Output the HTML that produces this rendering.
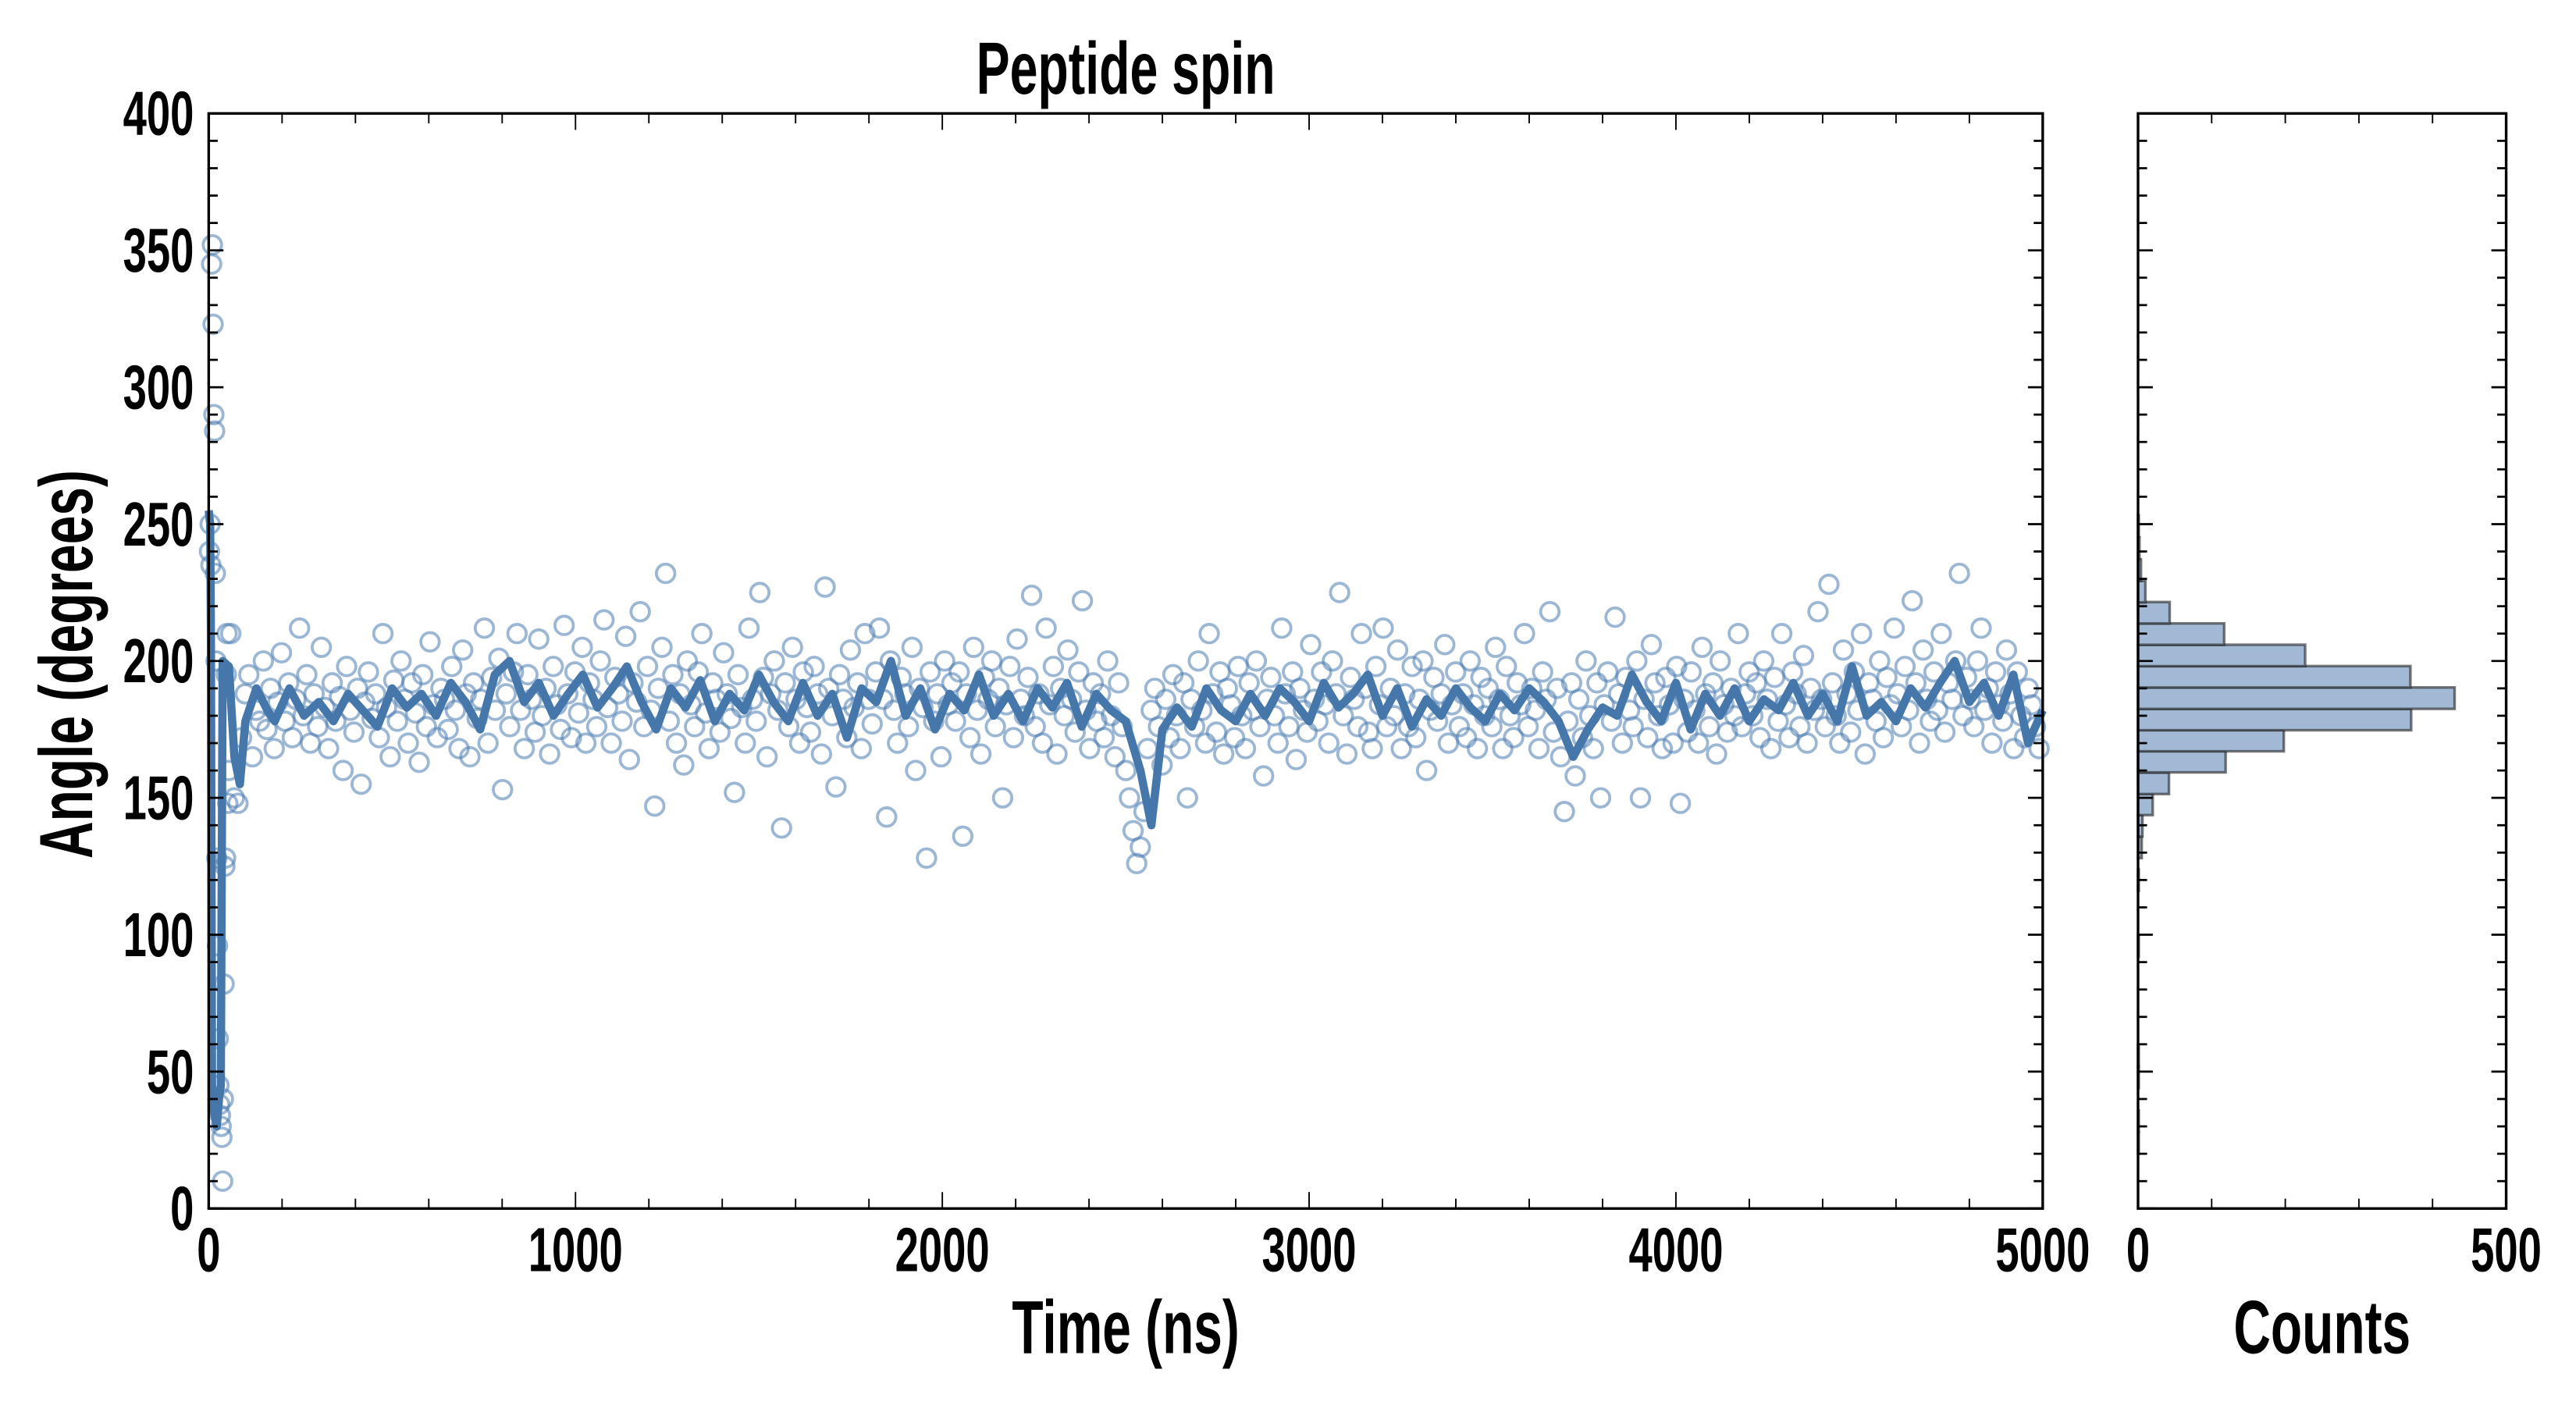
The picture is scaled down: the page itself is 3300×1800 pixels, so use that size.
<!DOCTYPE html>
<html><head><meta charset="utf-8"><title>Peptide spin</title>
<style>
html,body{margin:0;padding:0;background:#fff;}
svg{display:block;}
text{font-family:"Liberation Sans",sans-serif;font-weight:bold;fill:#000;}
</style></head>
<body>
<svg id="chart" xmlns="http://www.w3.org/2000/svg" width="3300" height="1800" viewBox="0 0 1567.5 854.5" preserveAspectRatio="none">
<rect x="0" y="0" width="1570" height="860" fill="#fff"/>
<g id="main-plot"></g>
<g id="hist-plot"></g>
<g id="labels"></g>
</svg>
<script>
// ---- data ----
const earlyTimes = [2,4,6,8,10,12,14,16,18,20,22,24,26,28,30,32,34,36,38,40,42,44,46,48,50,52,55];
const earlyValues = [240,250,235,345,352,323,290,284,232,200,128,96,62,45,38,34,30,26,10,40,82,125,128,195,210,148,160];
const scatterStart = 60;
const scatterStep = 9.88;
const scatterValues = [
210,150,148,172,188,195,165,182,178,200,175,190,168,185,203,178,192,172,186,212,
180,195,170,188,176,205,183,168,192,178,187,160,198,182,174,190,155,185,196,179,
188,172,210,183,165,193,178,200,186,170,192,181,163,195,176,207,184,172,190,186,
175,198,182,168,204,188,165,192,179,186,212,170,194,182,201,153,188,176,196,210,
182,168,195,186,174,208,180,190,166,198,184,175,213,188,172,196,181,205,170,192,
186,176,200,215,183,170,194,188,178,209,164,192,185,218,176,198,182,147,190,205,
232,178,195,170,188,162,200,184,176,196,210,181,168,192,186,174,203,188,179,152,
195,183,170,212,186,178,225,194,165,188,200,182,139,192,176,205,186,170,196,183,
174,198,188,166,227,190,180,154,195,186,172,204,183,192,168,210,186,177,196,212,
186,143,200,182,170,194,188,176,205,160,190,183,128,196,178,188,165,200,184,192,
178,196,136,188,172,205,182,166,194,186,200,176,190,150,184,198,172,208,186,180,
194,224,176,188,170,212,184,198,166,190,180,204,186,174,196,222,182,168,192,178,
188,172,200,180,165,192,176,160,150,138,126,132,145,168,182,190,176,162,186,172,
195,180,168,192,150,186,176,200,182,170,210,188,174,196,166,190,184,172,198,180,
168,192,182,200,176,158,186,194,180,170,212,188,176,196,164,190,182,174,206,186,
178,196,184,170,200,188,225,180,166,194,186,176,210,190,174,168,198,184,212,176,
190,180,204,168,188,176,198,172,186,200,160,182,194,178,188,206,170,184,196,176,
188,172,200,184,168,194,180,190,176,205,186,168,198,180,172,192,184,210,176,190,
182,168,196,186,218,174,190,165,145,178,192,158,186,172,200,180,168,192,150,184,
196,178,216,188,170,194,182,176,200,150,186,172,206,192,180,168,194,184,170,198,
148,186,174,196,182,170,205,188,176,192,166,200,184,174,190,180,210,176,188,196,
180,192,172,200,186,168,194,178,210,184,172,196,188,176,202,170,190,182,218,186,
176,228,192,180,170,204,188,174,196,182,210,166,192,186,178,200,172,194,184,212,
188,176,198,182,222,192,170,204,186,178,196,182,210,174,192,186,200,232,180,194,
186,176,200,212,182,190,170,196,184,178,204,188,168,196,180,172,190,184,176,168];
const lineTimes = [0,4,6,9,15,22,28,33,38,55,70,85,100,130,160,180,220,260,300,340,380,420,460,500,540,580,620,660,700,740,780,820,860,900,940,980,1020,1060,1100,1140,1180,1220,1260,1300,1340,1380,1420,1460,1500,1540,1580,1620,1660,1700,1740,1780,1820,1860,1900,1940,1980,2020,2060,2100,2140,2180,2220,2260,2300,2340,2380,2420,2460,2500,2540,2570,2600,2640,2680,2720,2760,2800,2840,2880,2920,2960,3000,3040,3080,3120,3160,3200,3240,3280,3320,3360,3400,3440,3480,3520,3560,3600,3640,3680,3720,3760,3800,3840,3880,3920,3960,4000,4040,4080,4120,4160,4200,4240,4280,4320,4360,4400,4440,4480,4520,4560,4600,4640,4680,4720,4760,4800,4840,4880,4920,4960,5000];
const lineValues = [255,250,210,45,35,30,40,45,200,198,165,155,178,190,182,178,190,180,185,178,188,182,176,190,183,188,180,192,185,175,195,200,185,192,180,188,195,183,190,198,185,175,190,183,193,178,188,182,195,185,178,192,180,188,172,190,185,200,180,190,175,188,182,195,180,188,178,190,183,192,176,188,182,178,160,140,175,183,176,190,182,178,188,180,190,185,178,192,183,188,195,180,190,176,186,180,190,183,178,188,182,190,185,178,165,175,183,180,195,185,178,192,175,188,180,190,178,186,182,192,180,188,178,198,180,185,178,190,183,192,200,185,192,180,195,170,182];
const binLower = [20,28,36,44,52,60,68,76,84,92,100,108,116,124,128.0,135.9,143.7,151.4,159.3,167.0,174.7,182.5,190.3,198.1,205.9,213.7,221.4,229.3,237.3,245.4];
const binCounts = [1,1,0,1,1,0,0,0,0,1,0,0,1,0,5,6,20,42,119,198,371,430,370,227,117,43,10,4,2,1];
const binWidth = 7.84;
const yTicks = [0,50,100,150,200,250,300,350,400];
const xTicks = [0,1000,2000,3000,4000,5000];
const hxTickLabels = [0,500];

// ---- layout ----
const M = {l:127, r:1243, t:69, b:735};
const H = {l:1301, r:1525};
const NS = 'http://www.w3.org/2000/svg';
const xS = t => M.l + (t/5000)*(M.r-M.l);
const yS = v => M.b - (v/400)*(M.b-M.t);
const hS = c => H.l + (c/500)*(H.r-H.l);
const main = document.getElementById('main-plot');
const hist = document.getElementById('hist-plot');
const labels = document.getElementById('labels');
function mk(tag, attrs, parent){
  const e = document.createElementNS(NS, tag);
  for (const k in attrs) e.setAttribute(k, attrs[k]);
  parent.appendChild(e);
  return e;
}
function txt(x, y, s, size, anchor, parent, rot){
  const e = mk('text', {'font-size':size, 'text-anchor':anchor,
    transform:'translate('+x+','+y+')'+(rot?' rotate('+rot+')':'')+' scale(0.68,1)'}, parent);
  e.textContent = s;
  return e;
}

// scatter
const sg = mk('g', {fill:'none', stroke:'#4a7bb0', 'stroke-opacity':'0.55', 'stroke-width':'1.8'}, main);


earlyTimes.forEach((t,i)=>{
  const c = mk('circle', {cx:xS(t), cy:yS(earlyValues[i]), r:5.6}, sg);
  
  
});
scatterValues.forEach((v,i)=>{
  const c = mk('circle', {cx:xS(scatterStart + i*scatterStep), cy:yS(v), r:5.6}, sg);
  
  
});
// running average line
const pts = lineTimes.map((t,i)=>xS(t).toFixed(2)+','+yS(lineValues[i]).toFixed(2)).join(' ');
const pl = mk('polyline', {points:pts, fill:'none', stroke:'#4577ab', 'stroke-width':'5', 'stroke-linejoin':'round'}, main);



// histogram bars
binLower.forEach((lo,i)=>{
  if (!binCounts[i]) return;
  const r = mk('rect', {x:H.l, y:yS(lo+binWidth), width:hS(binCounts[i])-H.l, height:yS(lo)-yS(lo+binWidth),
    fill:'#a1b9d4', stroke:'#222', 'stroke-opacity':'0.6', 'stroke-width':'1.6'}, hist);
  
  
});

// axes frames and ticks
function frame(x0, x1, parent, name){
  const f = mk('rect', {x:x0, y:M.t, width:x1-x0, height:M.b-M.t, fill:'none', stroke:'#000', 'stroke-width':'1.6'}, parent);
  
  
}
frame(M.l, M.r, main, 'main-axes-frame');
frame(H.l, H.r, hist, 'hist-axes-frame');
function ticksY(x0, x1, parent){
  const g = mk('g', {stroke:'#000', 'stroke-width':'1.3'}, parent);
  
  
  for (let v=0; v<=400; v+=10){
    const L = v%50===0 ? 9 : 5.5;
    mk('line', {x1:x0, x2:x0+L, y1:yS(v), y2:yS(v)}, g);
    mk('line', {x1:x1, x2:x1-L, y1:yS(v), y2:yS(v)}, g);
  }
}
ticksY(M.l, M.r, main);
ticksY(H.l, H.r, hist);
const xg = mk('g', {stroke:'#000', 'stroke-width':'0.9'}, main);


for (let t=0; t<=5000; t+=200){
  const L = t%1000===0 ? 10 : 6;
  mk('line', {x1:xS(t), x2:xS(t), y1:M.b, y2:M.b-L}, xg);
  mk('line', {x1:xS(t), x2:xS(t), y1:M.t, y2:M.t+L}, xg);
}
const hg = mk('g', {stroke:'#000', 'stroke-width':'0.9'}, hist);


for (let c=0; c<=500; c+=100){
  const L = (c%500===0) ? 10 : 6;
  mk('line', {x1:hS(c), x2:hS(c), y1:M.b, y2:M.b-L}, hg);
  mk('line', {x1:hS(c), x2:hS(c), y1:M.t, y2:M.t+L}, hg);
}

// tick labels
yTicks.forEach(v=>{
  const e = txt(118, yS(v)+13, String(v), 38, 'end', labels);
  
  
});
xTicks.forEach(t=>{
  const e = txt(xS(t), 773, String(t), 38, 'middle', labels);
  
  
});
hxTickLabels.forEach(c=>{
  const e = txt(hS(c), 773, String(c), 38, 'middle', labels);
  
  
});
const title = txt(685, 57, 'Peptide spin', 45, 'middle', labels);


const xl = txt(685, 823, 'Time (ns)', 46, 'middle', labels);


const hl = txt(1413, 823, 'Counts', 46, 'middle', labels);


const yl = txt(56, 404, 'Angle (degrees)', 46, 'middle', labels, -90);


</script>
</body></html>
